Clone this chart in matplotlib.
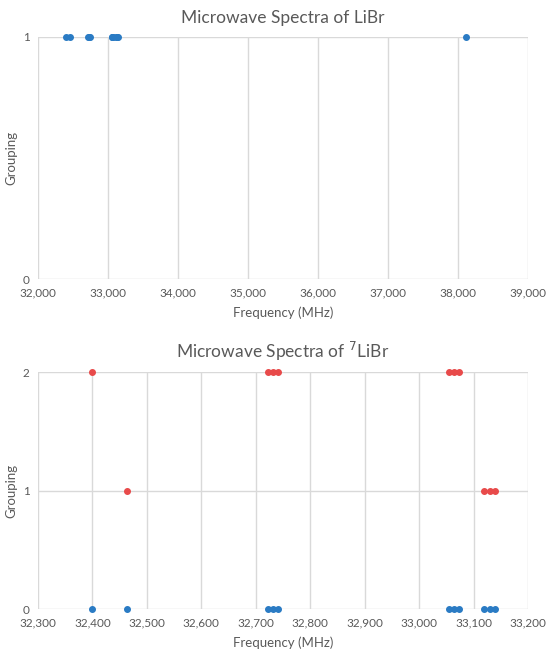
import matplotlib
matplotlib.use("Agg")
import matplotlib.pyplot as plt
from matplotlib.ticker import FuncFormatter

plt.rcParams['font.family'] = ['Lato', 'DejaVu Sans']

# Top chart: LiBr (all lines, grouping 1)
libr_freq = [32399, 32463, 32722, 32731, 32740, 33055, 33064, 33073,
             33120, 33130, 33140, 38115]
libr_group = [1] * len(libr_freq)

# Bottom chart: 7LiBr
li7_blue_freq = [32399, 32463, 32722, 32731, 32740, 33055, 33064, 33073,
                 33120, 33130, 33140]
li7_blue_group = [0] * len(li7_blue_freq)
li7_red_freq = [32399, 32722, 32731, 32740, 33055, 33064, 33073,
                32463, 33120, 33130, 33140]
li7_red_group = [2, 2, 2, 2, 2, 2, 2, 1, 1, 1, 1]

top_xticks = [32000, 33000, 34000, 35000, 36000, 37000, 38000, 39000]
bot_xticks = [32300, 32400, 32500, 32600, 32700, 32800, 32900, 33000, 33100, 33200]

BLUE = "#2A7BC4"
RED = "#E84A4A"
GRID = "#D9D9D9"
TXT = "#595959"

fig = plt.figure(figsize=(5.5, 6.6), dpi=100)

def style(ax, xticks, yticks, title):
    ax.set_xlim(xticks[0], xticks[-1])
    ax.set_ylim(yticks[0], yticks[-1])
    ax.set_xticks(xticks)
    ax.set_yticks(yticks)
    ax.xaxis.set_major_formatter(FuncFormatter(lambda v, p: f"{int(v):,}"))
    ax.grid(True, color=GRID, linewidth=1.0)
    ax.set_axisbelow(True)
    for s in ax.spines.values():
        s.set_visible(False)
    ax.tick_params(length=0, colors=TXT, labelsize=8.5, pad=6)
    ax.set_xlabel("Frequency (MHz)", color=TXT, fontsize=9.5, labelpad=6)
    ax.set_ylabel("Grouping", color=TXT, fontsize=9.5, labelpad=4)
    ax.set_title(title, color=TXT, fontsize=12.5, pad=10)

ax1 = fig.add_axes([0.069, 0.577, 0.891, 0.367])
ax1.scatter(libr_freq, libr_group, s=16, color=BLUE, zorder=3, clip_on=False)
style(ax1, top_xticks, [0, 1], "Microwave Spectra of LiBr")

ax2 = fig.add_axes([0.069, 0.077, 0.891, 0.359])
ax2.scatter(li7_blue_freq, li7_blue_group, s=16, color=BLUE, zorder=3, clip_on=False)
ax2.scatter(li7_red_freq, li7_red_group, s=16, color=RED, zorder=3, clip_on=False)
style(ax2, bot_xticks, [0, 1, 2], "Microwave Spectra of $^{7}$LiBr")

fig.savefig("out.png", dpi=100)
